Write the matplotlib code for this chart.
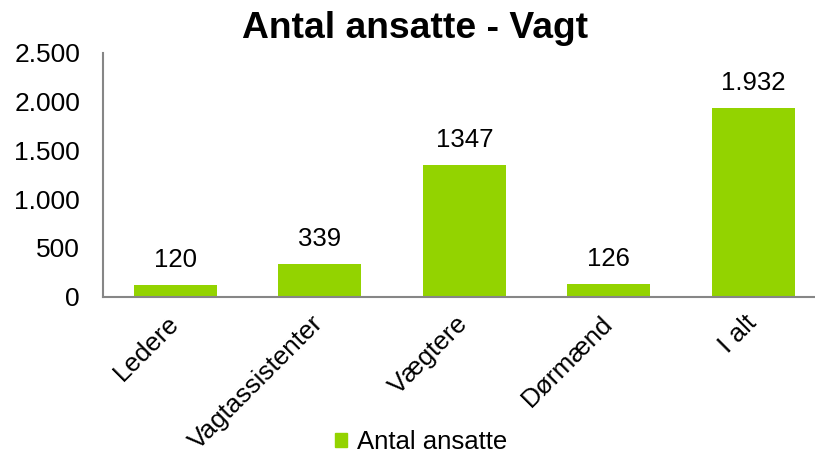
import matplotlib
matplotlib.use("Agg")
import matplotlib.pyplot as plt
from matplotlib.patches import Patch
from matplotlib.ticker import FuncFormatter

plt.rcParams['font.family'] = ['Liberation Sans', 'DejaVu Sans']

# data
categories = ['Ledere', 'Vagtassistenter', 'Vægtere', 'Dørmænd', 'I alt']
values = [120, 339, 1347, 126, 1932]
value_labels = ['120', '339', '1347', '126', '1.932']
yticks = [0, 500, 1000, 1500, 2000, 2500]

bar_color = '#93D300'
axis_color = '#868686'

fig = plt.figure(figsize=(8.15, 4.55), dpi=100)
ax = fig.add_axes([0.1264, 0.348, 0.8865, 0.5365])

x = list(range(len(categories)))
bars = ax.bar(x, values, width=0.574, color=bar_color, zorder=2)

for b, lbl in zip(bars, value_labels):
    ax.annotate(lbl, (b.get_x() + b.get_width() / 2, b.get_height()),
                xytext=(0, 13), textcoords='offset points',
                ha='center', va='baseline', fontsize=18.5)

ax.set_xlim(-0.5, len(categories) - 0.5)
ax.set_ylim(0, 2500)
ax.set_yticks(yticks)
ax.yaxis.set_major_formatter(FuncFormatter(lambda v, p: f"{v:,.0f}".replace(',', '.')))
ax.tick_params(axis='y', length=0, pad=16.5, labelsize=19)
ax.set_xticks(x)
ax.set_xticklabels(categories, rotation=45, ha='right', va='center',
                   rotation_mode='anchor', fontsize=18.8)
ax.tick_params(axis='x', length=0, pad=16.5)

for s in ['top', 'right']:
    ax.spines[s].set_visible(False)
for s in ['left', 'bottom']:
    ax.spines[s].set_color(axis_color)
    ax.spines[s].set_linewidth(1.5)

fig.text(415.5 / 815, 1 - 38 / 455, 'Antal ansatte - Vagt', ha='center', va='baseline',
         fontsize=26.8, fontweight='bold')

fig.legend(handles=[Patch(color=bar_color, label='Antal ansatte')], loc='center',
           bbox_to_anchor=(421.5 / 815, 1 - 442 / 455), frameon=False, fontsize=18.5,
           handlelength=0.47, handleheight=0.47, handletextpad=0.39,
           borderpad=0, borderaxespad=0)

fig.savefig('out.png', dpi=100)
